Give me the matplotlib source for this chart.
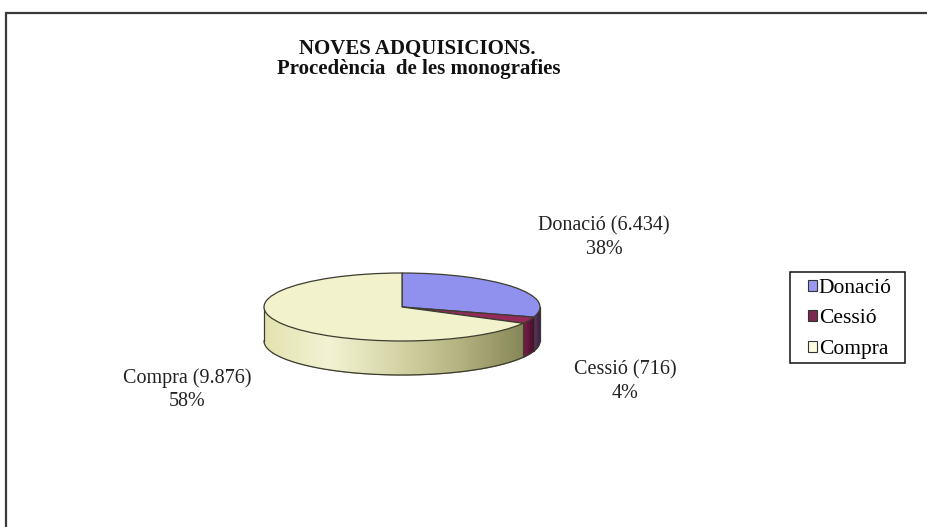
import numpy as np
import matplotlib.pyplot as plt
from matplotlib.patches import Patch, Rectangle
from matplotlib.colors import LinearSegmentedColormap

# data
labels = ['Donació', 'Cessió', 'Compra']
values = [6434, 716, 9876]
title_lines = ['NOVES ADQUISICIONS.', 'Procedència  de les monografies']

top_colors = ['#9090ee', '#962a5a', '#f2f2cd']
legend_colors = ['#9999f5', '#7e2850', '#fbfbe2']
# wall gradients (left -> right)
wall_grads = [['#5a3a6a', '#3e1a36'],
              ['#7a2048', '#4a0f2c'],
              ['#e2e2b0', '#f3f3d4', '#d6d6a8', '#b4b482', '#868658']]

W, H = 927, 527
fig = plt.figure(figsize=(W / 100, H / 100), dpi=100)
fig.patch.set_facecolor('white')
font = 'Liberation Serif'

# pie geometry in pixels: centre, half axes, depth
cx, cy, a, b = 402, 307, 138, 34
depth = 1.0
k = 0.3  # flattening of the slice angles, like the 3D view

ax = fig.add_axes([0, 0, 1, 1])

total = sum(values)
theta = np.radians(90 - 360 * np.concatenate([[0], np.cumsum(values)]) / total)
proj = np.arctan2(k * np.sin(theta), np.cos(theta))
phi = theta + ((proj - theta + np.pi) % (2 * np.pi) - np.pi)
phi = np.degrees(phi)
spans = -np.diff(phi)

# side walls
for i in range(len(values)):
    lo = max(phi[i + 1], -180)
    hi = min(phi[i], 0)
    if lo >= hi:
        continue
    t = np.radians(np.linspace(lo, hi, 200))
    x = np.cos(t)
    poly = ax.fill_between(x, np.sin(t) - depth, np.sin(t), color=wall_grads[i][-1], lw=0, zorder=1)
    cmap = LinearSegmentedColormap.from_list('w%d' % i, wall_grads[i])
    grad = np.linspace(0, 1, 256).reshape(1, -1)
    im = ax.imshow(grad, cmap=cmap, extent=(x.min(), x.max(), -depth - 1, 0.1),
                   aspect='auto', origin='lower', zorder=2)
    im.set_clip_path(poly.get_paths()[0], transform=ax.transData)

# wall outlines
edge = '#3c3c30'
t = np.radians(np.linspace(-180, 0, 300))
ax.plot(np.cos(t), np.sin(t) - depth, color=edge, lw=0.9, zorder=3)
ax.plot([-1, -1], [0, -depth], color=edge, lw=0.9, zorder=3)
ax.plot([1, 1], [0, -depth], color=edge, lw=0.9, zorder=3)
for p in phi:
    if -180 < p < 0:
        r = np.radians(p)
        ax.plot([np.cos(r)] * 2, [np.sin(r), np.sin(r) - depth], color=edge, lw=0.8, zorder=3)

# top face
wedges, _ = ax.pie(spans, startangle=90, counterclock=False, colors=top_colors,
                   radius=1, center=(0, 0),
                   wedgeprops=dict(edgecolor=edge, linewidth=0.9, zorder=4))

ax.set_aspect('auto')
ax.set_xlim(-cx / a, (W - cx) / a)
ax.set_ylim(-(H - cy) / b, cy / b)
ax.axis('off')

# data labels: centre x and the two baselines, in pixels
label_x = [604, 625, 187]
label_base = [(230, 254), (374, 398), (383, 406)]
for name, v, px, (b1, b2) in zip(labels, values, label_x, label_base):
    line1 = '%s (%s)' % (name, format(v, ',').replace(',', '.'))
    line2 = '%d%%' % round(100 * v / total)
    fig.text(px / W, 1 - b1 / H, line1, ha='center', va='baseline',
             fontsize=14.5, family=font, color='#222222')
    fig.text(px / W, 1 - b2 / H, line2, ha='center', va='baseline',
             fontsize=14.5, family=font, color='#222222')

# title
fig.text(417 / W, 1 - 54 / H, title_lines[0], ha='center', va='baseline',
         fontsize=15, family=font, fontweight='bold', color='#111111')
fig.text(419 / W, 1 - 74 / H, title_lines[1], ha='center', va='baseline',
         fontsize=15, family=font, fontweight='bold', color='#111111')

# legend
handles = [Patch(facecolor=c, edgecolor='#333333', lw=0.8) for c in legend_colors]
leg = fig.legend(handles, labels, loc='upper left', bbox_to_anchor=(808 / W, 1 - 279 / H),
                 bbox_transform=fig.transFigure, frameon=False,
                 prop={'family': font, 'size': 15.5},
                 handlelength=0.4, handleheight=0.4, handletextpad=0.1,
                 labelspacing=0.53, borderpad=0, borderaxespad=0)
fig.add_artist(Rectangle((790 / W, 1 - 363 / H), 115 / W, 91 / H, transform=fig.transFigure,
                         fill=False, edgecolor='#111111', lw=1.1))

# chart border
fig.add_artist(Rectangle((5.5 / W, -0.05), 1.1, 1.05 - 12.5 / H, transform=fig.transFigure,
                         fill=False, edgecolor='#3a3a3a', lw=1.6))

fig.savefig('out.png', dpi=100)
